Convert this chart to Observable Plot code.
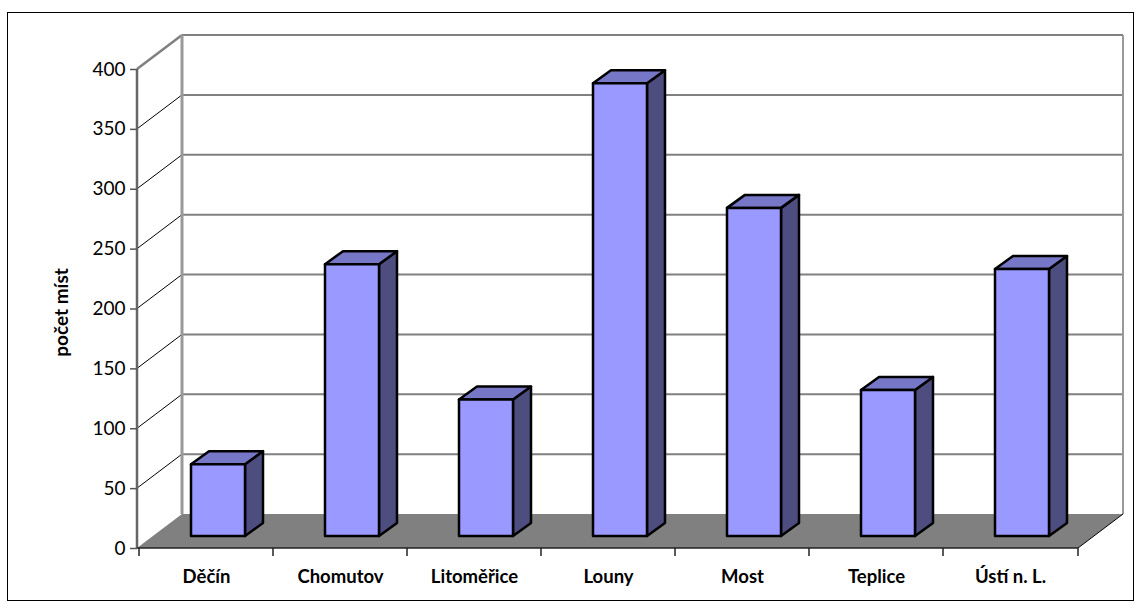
<!DOCTYPE html>
<html>
<head>
<meta charset="utf-8">
<script src="https://cdn.jsdelivr.net/npm/d3@7"></script>
<script src="https://cdn.jsdelivr.net/npm/@observablehq/plot@0.6"></script>
<style>
  html, body { margin: 0; padding: 0; background: #fff; }
  #wrap { position: relative; width: 1140px; height: 608px; overflow: hidden; }
  #border { position: absolute; left: 7px; top: 12px; width: 1125px; height: 587px; border: 1px solid #000; pointer-events: none; }
  #chart { position: absolute; left: 0; top: 0; }
</style>
</head>
<body>
<div id="wrap"><div id="chart"></div><div id="border"></div></div>
<script>
// ---- data ----
const categories = ["Děčín", "Chomutov", "Litoměřice", "Louny", "Most", "Teplice", "Ústí n. L."];
const values = [60, 227, 114, 378, 274, 122, 223];
const yTicks = [0, 50, 100, 150, 200, 250, 300, 350, 400];
const yLabel = "počet míst";

const data = categories.map((c, i) => ({name: c, value: values[i]}));

// ---- 3D styling (pixel offsets) ----
const DEPTH = {dx: 45, dy: -34};       // back wall offset
const BAR_FRONT = {dx: 12, dy: -12};   // bar front face offset
const BAR_DEPTH = {dx: 18, dy: -13};   // bar depth
const BAR_W = 54;

const ns = "http://www.w3.org/2000/svg";
function el(tag, attrs) {
  const e = document.createElementNS(ns, tag);
  for (const k in attrs) e.setAttribute(k, attrs[k]);
  return e;
}
function poly(pts, attrs) {
  return el("polygon", Object.assign({points: pts.map(p => p.join(",")).join(" ")}, attrs));
}

// walls, floor and gridlines
function walls(index, scales, values, dimensions) {
  const g = el("g", {});
  const x = scales.x, y = scales.y;
  const x0 = dimensions.marginLeft;
  const x1 = dimensions.width - dimensions.marginRight;
  const yb = y(0), yt = y(yTicks[yTicks.length - 1]);
  g.appendChild(poly([[x0, yb], [x1, yb], [x1 + DEPTH.dx, yb + DEPTH.dy], [x0 + DEPTH.dx, yb + DEPTH.dy]], {fill: "#808080", stroke: "none"}));
  for (const t of yTicks.slice(1)) {
    const yy = y(t) + DEPTH.dy;
    g.appendChild(el("line", {x1: x0 + DEPTH.dx, x2: x1 + DEPTH.dx, y1: yy, y2: yy, stroke: "#808080", "stroke-width": 2}));
  }
  for (const t of yTicks.slice(1, -1)) {
    g.appendChild(el("line", {x1: x0, y1: y(t), x2: x0 + DEPTH.dx, y2: y(t) + DEPTH.dy, stroke: "#000", "stroke-width": 1}));
  }
  g.appendChild(el("line", {x1: x0, y1: yt, x2: x0 + DEPTH.dx, y2: yt + DEPTH.dy, stroke: "#808080", "stroke-width": 2.5}));
  g.appendChild(el("line", {x1: x0 + DEPTH.dx, y1: yb + DEPTH.dy, x2: x0 + DEPTH.dx, y2: yt + DEPTH.dy, stroke: "#999", "stroke-width": 3}));
  g.appendChild(el("line", {x1: x1 + DEPTH.dx, y1: yb + DEPTH.dy, x2: x1 + DEPTH.dx, y2: yt + DEPTH.dy, stroke: "#999", "stroke-width": 2}));
  g.appendChild(el("line", {x1: x1, y1: yb, x2: x1 + DEPTH.dx, y2: yb + DEPTH.dy, stroke: "#000", "stroke-width": 1}));
  g.appendChild(el("line", {x1: x0, y1: yb, x2: x0, y2: yt, stroke: "#666", "stroke-width": 2.5}));
  g.appendChild(el("line", {x1: x0, y1: yb, x2: x1, y2: yb, stroke: "#222", "stroke-width": 1.5}));
  const bounds = categories.map(c => x(c)).concat([x1]);
  for (const bx of bounds) {
    g.appendChild(el("line", {x1: bx, y1: yb, x2: bx, y2: yb + 8, stroke: "#222", "stroke-width": 1.5}));
  }
  // y axis title
  const t = el("text", {
    transform: `translate(${x0 - 74},${(yb + yt) / 2 + 4}) rotate(-90)`,
    "text-anchor": "middle", "dominant-baseline": "middle",
    "font-size": 19, "font-weight": "bold", fill: "#000"
  });
  t.textContent = yLabel;
  g.appendChild(t);
  return g;
}

// 3D bars
function bars(index, scales, values, dimensions) {
  const g = el("g", {"stroke": "#000", "stroke-width": 2.5, "stroke-linejoin": "round"});
  const x = scales.x, y = scales.y;
  const step = categories.length > 1 ? x(categories[1]) - x(categories[0]) : (dimensions.width - dimensions.marginLeft - dimensions.marginRight);
  for (const d of data) {
    const cx = x(d.name) + step / 2 + BAR_FRONT.dx;
    const l = cx - BAR_W / 2, r = cx + BAR_W / 2;
    const yb = y(0) + BAR_FRONT.dy, yt = y(d.value) + BAR_FRONT.dy;
    const ddx = BAR_DEPTH.dx, ddy = BAR_DEPTH.dy;
    g.appendChild(poly([[r, yt], [r + ddx, yt + ddy], [r + ddx, yb + ddy], [r, yb]], {fill: "#4D4D80"}));
    g.appendChild(poly([[l, yt], [r, yt], [r + ddx, yt + ddy], [l + ddx, yt + ddy]], {fill: "#7777C8"}));
    g.appendChild(poly([[l, yt], [r, yt], [r, yb], [l, yb]], {fill: "#9999FF"}));
  }
  return g;
}

const chart = Plot.plot({
  width: 1140,
  height: 608,
  marginLeft: 137,
  marginRight: 62,
  marginTop: 69,
  marginBottom: 60,
  style: {fontFamily: "Lato, 'Open Sans', sans-serif", background: "transparent", color: "#000"},
  x: {type: "band", domain: categories, padding: 0},
  y: {domain: [0, 400]},
  marks: [
    walls,
    Plot.axisY({ticks: yTicks, tickSize: 7, tickPadding: 5, fontSize: 19, label: null, stroke: "#555", strokeWidth: 1.5}),
    Plot.axisX({tickSize: 0, tickPadding: 21, fontSize: 18.5, fontWeight: "bold", label: null}),
    bars
  ]
});
document.getElementById("chart").appendChild(chart);
</script>
</body>
</html>
